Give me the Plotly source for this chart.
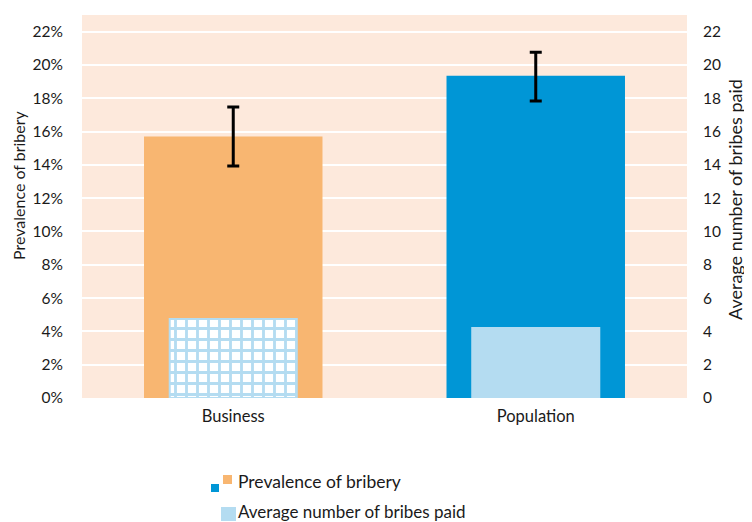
import plotly.graph_objects as go

categories = ["Business", "Population"]
prevalence = [0.157, 0.1935]
err_plus = [0.0177, 0.0142]
err_minus = [0.0177, 0.0152]
avg_bribes = [4.75, 4.2]
left_ticks = [i / 100 for i in range(0, 23, 2)]
left_labels = [f"{i}%" for i in range(0, 23, 2)]
right_ticks = list(range(0, 23, 2))

ORANGE = "#F8B671"
BLUE = "#0096D6"
LIGHT = "#B4DCF1"
BG = "#FDE9DC"
FONT = "Lato"
TXT = "#1a1a1a"

# page is rendered with an 8px body margin; plot area in page pixels: x 82..687, y 15..398
def px(x):
    return (x - 82) / 605

def py(y):
    return (398 - y) / 383

fig = go.Figure()
fig.add_trace(go.Bar(
    x=categories, y=prevalence, width=0.59,
    marker=dict(color=[ORANGE, BLUE], line=dict(width=0)),
    error_y=dict(type="data", array=err_plus, arrayminus=err_minus,
                 color="black", thickness=3, width=6),
    name="Prevalence of bribery", showlegend=False, yaxis="y",
))
# Business: grid-patterned bar
fig.add_trace(go.Bar(
    x=categories[:1], y=avg_bribes[:1], width=0.42,
    marker=dict(color="white",
                line=dict(color=LIGHT, width=2),
                pattern=dict(shape="+", fgcolor=LIGHT, bgcolor="white",
                             fillmode="replace", size=11, solidity=0.45)),
    name="Average number of bribes paid", showlegend=False, yaxis="y2",
))
# Population: solid light bar
fig.add_trace(go.Bar(
    x=categories[1:], y=avg_bribes[1:], width=0.42,
    marker=dict(color=LIGHT, line=dict(color=LIGHT, width=2)),
    name="Average number of bribes paid", showlegend=False, yaxis="y2",
))

fig.update_layout(
    width=744, height=514,
    margin=dict(l=74, r=65, t=7, b=124),
    paper_bgcolor="white", plot_bgcolor=BG,
    barmode="overlay",
    font=dict(family=FONT, size=15.5, color=TXT),
    xaxis=dict(showgrid=False, zeroline=False, showline=False, ticks="",
               tickfont=dict(size=16.5), ticklabelstandoff=6),
    yaxis=dict(range=[0, 0.23], tickvals=left_ticks, ticktext=left_labels,
               showgrid=True, gridcolor="white", gridwidth=2, zeroline=False,
               showline=False, ticks="", ticklabelstandoff=18,
               tickfont=dict(size=15.5)),
    yaxis2=dict(range=[0, 23], tickvals=right_ticks, overlaying="y", side="right",
                showgrid=False, zeroline=False, showline=False, ticks="",
                ticklabelstandoff=15, tickfont=dict(size=15.5)),
    showlegend=False,
)

# axis titles
fig.add_annotation(text="Prevalence of bribery", xref="paper", yref="paper",
                   x=px(18), y=py(185), textangle=-90, xanchor="center", yanchor="middle",
                   showarrow=False, font=dict(size=16, color=TXT))
fig.add_annotation(text="Average number of bribes paid", xref="paper", yref="paper",
                   x=px(735), y=py(200), textangle=-90, xanchor="center", yanchor="middle",
                   showarrow=False, font=dict(size=18, color=TXT))

# custom legend
fig.add_shape(type="rect", xref="paper", yref="paper",
              x0=px(211), x1=px(219), y0=py(492), y1=py(484),
              fillcolor=BLUE, line=dict(width=0))
fig.add_shape(type="rect", xref="paper", yref="paper",
              x0=px(223), x1=px(232), y0=py(484), y1=py(475),
              fillcolor=ORANGE, line=dict(width=0))
fig.add_shape(type="rect", xref="paper", yref="paper",
              x0=px(221), x1=px(236), y0=py(521), y1=py(507),
              fillcolor=LIGHT, line=dict(width=0))
fig.add_annotation(text="Prevalence of bribery", xref="paper", yref="paper",
                   x=px(236), y=py(481), xanchor="left", yanchor="middle",
                   showarrow=False, font=dict(size=17.5, color=TXT))
fig.add_annotation(text="Average number of bribes paid", xref="paper", yref="paper",
                   x=px(236), y=py(511), xanchor="left", yanchor="middle",
                   showarrow=False, font=dict(size=17, color=TXT))

fig.write_html("out.html")
